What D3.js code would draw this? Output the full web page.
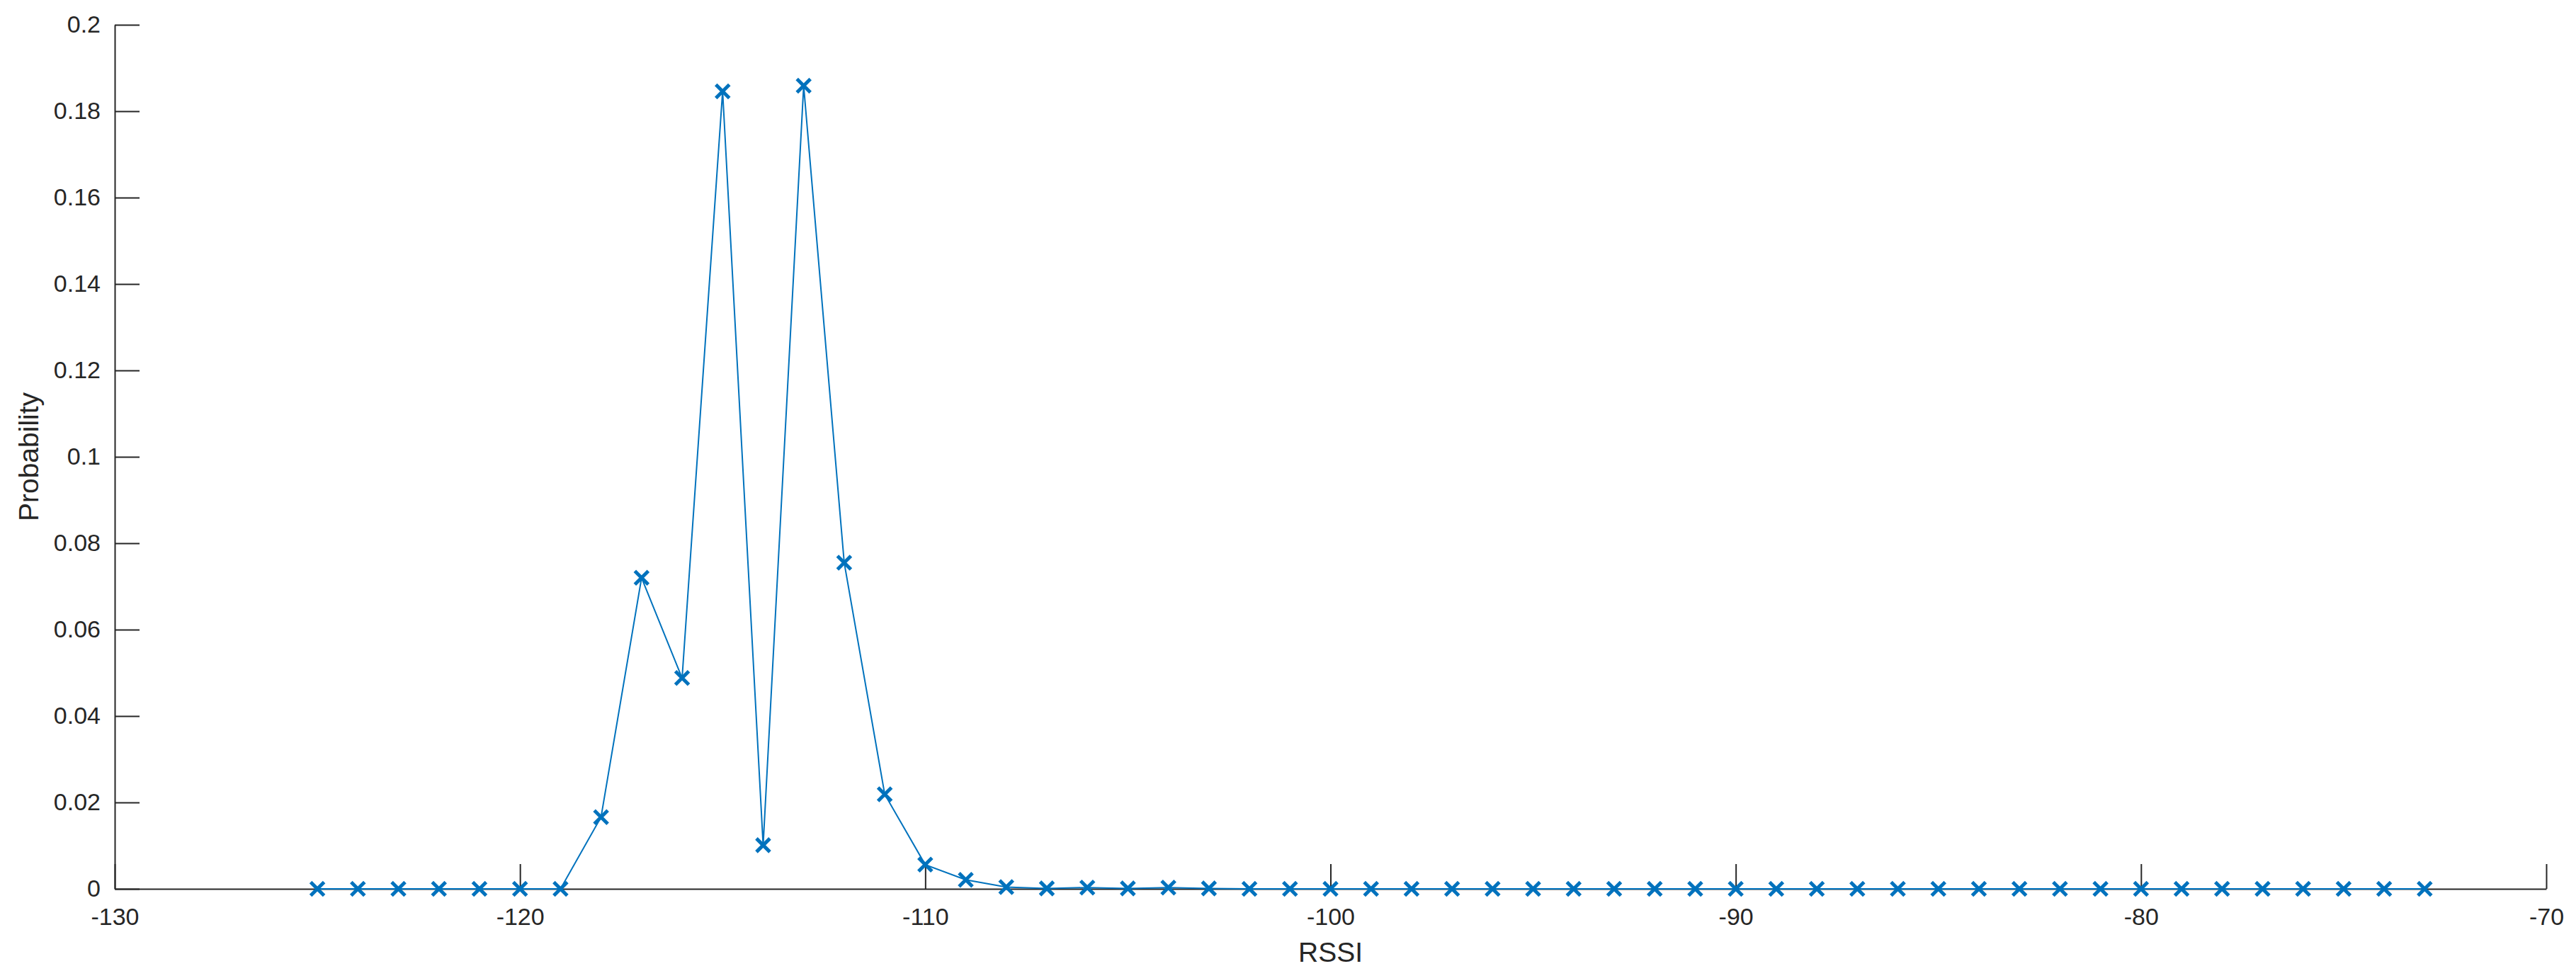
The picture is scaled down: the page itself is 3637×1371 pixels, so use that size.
<!DOCTYPE html>
<html>
<head>
<meta charset="utf-8">
<script src="https://cdn.jsdelivr.net/npm/d3@7"></script>
<style>
  body { margin: 0; background: #fff; }
  svg { display: block; font-family: "Liberation Sans", Arial, sans-serif; }
  .axis path, .axis line { stroke: #262626; stroke-width: 2; }
  .axis text { fill: #262626; font-size: 34px; }
</style>
</head>
<body>
<svg width="3637" height="1371"></svg>
<script>
// RSSI values (dBm) and probability of each
var rssi = [-125,-124,-123,-122,-121,-120,-119,-118,-117,-116,-115,-114,-113,-112,-111,-110,-109,-108,-107,-106,
            -105,-104,-103,-102,-101,-100,-99,-98,-97,-96,-95,-94,-93,-92,-91,-90,-89,-88,-87,-86,
            -85,-84,-83,-82,-81,-80,-79,-78,-77,-76,-75,-74,-73];
var prob = [0,0,0,0,0,0,0,0.0166,0.0720,0.0488,0.1846,0.0101,0.1859,0.0755,0.0219,0.0056,0.0021,0.0004,0.0001,0.0003,
            0.0001,0.0003,0.0001,0,0,0,0,0,0,0,0,0,0,0,0,0,0,0,0,0,
            0,0,0,0,0,0,0,0,0,0,0,0,0];
var xTicks = [-130,-120,-110,-100,-90,-80,-70];
var yTicks = [0,0.02,0.04,0.06,0.08,0.1,0.12,0.14,0.16,0.18,0.2];

var svg = d3.select("svg"),
    margin = {top: 35, right: 42, bottom: 116, left: 162},
    width = +svg.attr("width") - margin.left - margin.right,
    height = +svg.attr("height") - margin.top - margin.bottom,
    g = svg.append("g").attr("transform", "translate(" + margin.left + "," + margin.top + ")");

var x = d3.scaleLinear().domain([-130, -70]).range([0, width]);
var y = d3.scaleLinear().domain([0, 0.2]).range([height, 0]);

// axes, MATLAB style ticks pointing inward
g.append("g")
    .attr("class", "axis axis--x")
    .attr("transform", "translate(0," + height + ")")
    .call(d3.axisBottom(x).tickValues(xTicks).tickSize(-35).tickSizeOuter(0).tickPadding(16)
      .tickFormat(function(d) { return d3.format("d")(d).replace("\u2212", "-"); }))
    .call(function(a) { a.selectAll("text").attr("dy", "0.71em").attr("y", 27); });

g.append("g")
    .attr("class", "axis axis--y")
    .call(d3.axisLeft(y).tickValues(yTicks).tickSize(-35).tickSizeOuter(0).tickPadding(20)
      .tickFormat(function(d) { return d === 0 ? "0" : String(+d.toFixed(2)); }))
    .call(function(a) { a.selectAll("text").attr("x", -20); });

g.selectAll(".axis path").attr("fill", "none");

// axis titles
svg.append("text")
    .attr("x", margin.left + width / 2)
    .attr("y", 1358)
    .attr("text-anchor", "middle")
    .style("font-size", "39px")
    .style("fill", "#262626")
    .text("RSSI");

svg.append("text")
    .attr("transform", "translate(54," + (margin.top + height / 2) + ") rotate(-90)")
    .attr("text-anchor", "middle")
    .style("font-size", "39px")
    .style("fill", "#262626")
    .text("Probability");

// line
var pts = rssi.map(function(r, i) { return {x: r, y: prob[i]}; });

g.append("path")
    .datum(pts)
    .attr("fill", "none")
    .attr("stroke", "#0072BD")
    .attr("stroke-width", 2)
    .attr("d", d3.line()
      .x(function(d) { return x(d.x); })
      .y(function(d) { return y(d.y); }));

// x markers
var s = 9.5;
g.append("g").selectAll("path.mark")
    .data(pts)
    .enter().append("path")
    .attr("class", "mark")
    .attr("fill", "none")
    .attr("stroke", "#0072BD")
    .attr("stroke-width", 5)
    .attr("d", function(d) {
      var cx = x(d.x), cy = y(d.y);
      return "M" + (cx - s) + "," + (cy - s) + "L" + (cx + s) + "," + (cy + s) +
             "M" + (cx - s) + "," + (cy + s) + "L" + (cx + s) + "," + (cy - s);
    });
</script>
</body>
</html>
